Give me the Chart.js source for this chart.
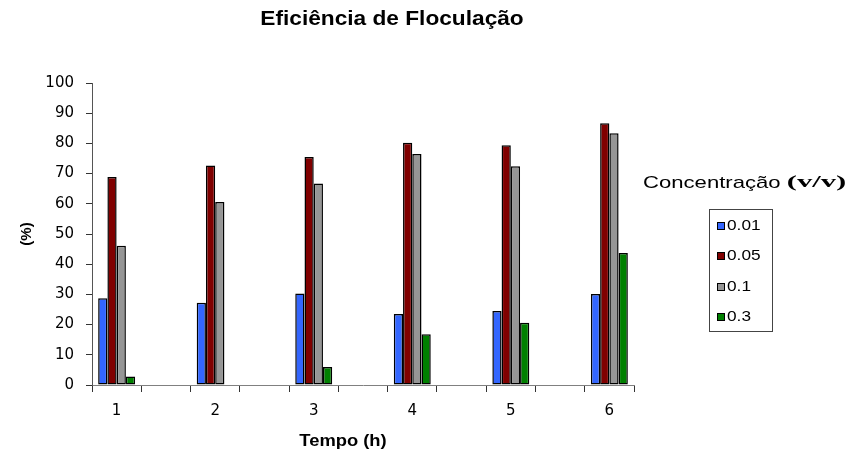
<!DOCTYPE html>
<html>
<head>
<meta charset="utf-8">
<script src="https://cdn.jsdelivr.net/npm/chart.js@4/dist/chart.umd.min.js"></script>
<style>
  html, body { margin: 0; padding: 0; background: #ffffff; }
  #wrap { width: 848px; height: 457px; }
</style>
</head>
<body>
<div id="wrap"><canvas id="chart" width="848" height="457"></canvas></div>
<script>
// Flocculation efficiency (%) over time, one series per concentration (v/v)
const hours = ['1', '2', '3', '4', '5', '6'];
const conc001 = [28.7, 27.2, 30.3, 23.5, 24.5, 30.1];
const conc005 = [68.9, 72.7, 75.5, 80.2, 79.4, 86.7];
const conc01  = [46.1, 60.6, 66.7, 76.5, 72.4, 83.4];
const conc03  = [2.8, null, 6.0, 16.8, 20.6, 43.7];
const seriesNames = ['0.01', '0.05', '0.1', '0.3'];
const seriesColors = ['#3366ff', '#800000', '#969696', '#008000'];
const yTicks = [0, 10, 20, 30, 40, 50, 60, 70, 80, 90, 100];

const chartTitle = 'Eficiência de Floculação';
const xTitle = 'Tempo (h)';
const yTitle = '(%)';
const legendTitle = 'Concentração';
const legendUnit = '(v/v)';

// The time axis leaves an empty slot between consecutive hours
function spaced(arr, filler) {
  const out = [];
  arr.forEach((v, i) => {
    if (i > 0) out.push(filler);
    out.push(v);
  });
  return out;
}

const labels = spaced(hours, '');
const allSeries = [conc001, conc005, conc01, conc03];

const datasets = allSeries.map((vals, i) => ({
  label: seriesNames[i],
  data: spaced(vals, null),
  backgroundColor: seriesColors[i],
  borderColor: '#000000',
  borderWidth: 1.5,
  borderSkipped: false,
  categoryPercentage: 0.75,
  barPercentage: 1.0
}));

// Horizontally stretched text helper
function stretchText(ctx, text, x, y, font, sx, align) {
  ctx.save();
  ctx.font = font;
  ctx.textBaseline = 'middle';
  const w = ctx.measureText(text).width * sx;
  let left = x;
  if (align === 'center') left = x - w / 2;
  else if (align === 'right') left = x - w;
  ctx.translate(left, y);
  ctx.scale(sx, 1);
  ctx.textAlign = 'left';
  ctx.fillText(text, 0, 0);
  ctx.restore();
  return w;
}

const decorations = {
  id: 'decorations',
  afterDraw(chart) {
    const ctx = chart.ctx;
    ctx.save();
    ctx.fillStyle = '#000000';

    // chart title
    stretchText(ctx, chartTitle, 392, 19.5, 'bold 21px "Liberation Sans", Arial, sans-serif', 1.08, 'center');

    // category axis title
    stretchText(ctx, xTitle, 343, 441.5, 'bold 17px "Liberation Sans", Arial, sans-serif', 1.08, 'center');

    // legend heading
    const w1 = stretchText(ctx, legendTitle + ' ', 643, 183, '17px "Liberation Sans", Arial, sans-serif', 1.3, 'left');
    stretchText(ctx, legendUnit, 643 + w1, 183, 'bold 17px "Liberation Serif", "Times New Roman", serif', 1.8, 'left');

    // legend box
    const bx = 709.5, by = 209.5, bw = 63, bh = 122;
    ctx.strokeStyle = '#444444';
    ctx.lineWidth = 1;
    ctx.strokeRect(bx, by, bw, bh);

    chart.data.datasets.forEach((ds, i) => {
      const cy = 226 + i * 30.3;
      ctx.fillStyle = ds.backgroundColor;
      ctx.fillRect(717, Math.round(cy) - 4, 7, 7);
      ctx.strokeStyle = '#000000';
      ctx.strokeRect(717.5, Math.round(cy) - 3.5, 7, 7);
      ctx.fillStyle = '#000000';
      stretchText(ctx, ds.label, 727, cy, '15px "Liberation Sans", Arial, sans-serif', 1.15, 'left');
    });
    ctx.restore();
  }
};

new Chart(document.getElementById('chart'), {
  type: 'bar',
  data: { labels, datasets },
  options: {
    responsive: false,
    animation: false,
    layout: { padding: { left: 0, right: 214, top: 83, bottom: 0 } },
    plugins: {
      legend: { display: false },
      title: { display: false },
      tooltip: { enabled: false }
    },
    scales: {
      x: {
        type: 'category',
        offset: true,
        grid: {
          display: true,
          offset: true,
          drawOnChartArea: false,
          drawTicks: true,
          tickLength: 7,
          color: '#333333'
        },
        border: { display: true, color: '#808080', width: 1 },
        ticks: {
          autoSkip: false,
          maxRotation: 0,
          color: '#000000',
          padding: 10,
          font: { family: '"DejaVu Sans", sans-serif', size: 15 }
        },
        afterFit(scale) { scale.height = 72; }
      },
      y: {
        min: 0,
        max: 100,
        afterBuildTicks(scale) { scale.ticks = yTicks.map(v => ({ value: v })); },
        grid: {
          display: true,
          drawOnChartArea: false,
          drawTicks: true,
          tickLength: 6,
          color: '#333333'
        },
        border: { display: true, color: '#555555', width: 1 },
        ticks: {
          color: '#000000',
          padding: 12,
          font: { family: '"DejaVu Sans", sans-serif', size: 15 }
        },
        title: {
          display: true,
          text: yTitle,
          color: '#000000',
          font: { family: '"Liberation Sans", Arial, sans-serif', size: 15, weight: 'bold' },
          padding: { top: 18, bottom: 0 }
        },
        afterFit(scale) { scale.width = 92; }
      }
    }
  },
  plugins: [decorations]
});
</script>
</body>
</html>
